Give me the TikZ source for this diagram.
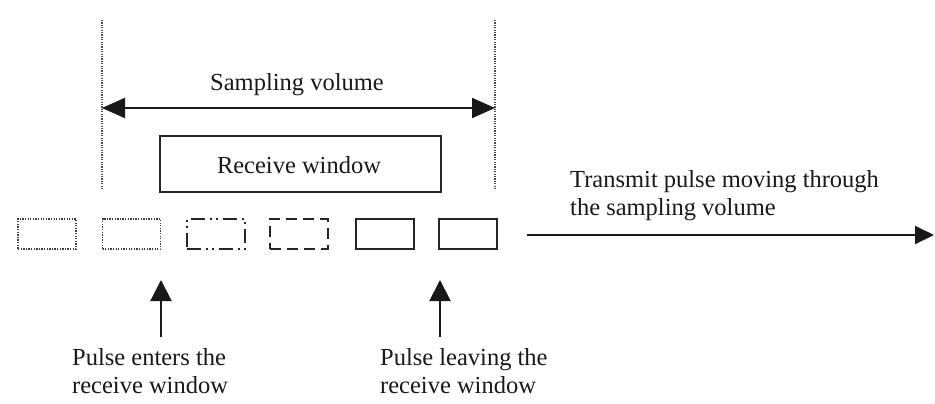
\documentclass[tikz,border=0pt]{standalone}
\usepackage{fontspec}
\setmainfont{Liberation Serif}
\usetikzlibrary{arrows.meta}
\begin{document}
\begin{tikzpicture}[x=1pt,y=-1pt,
  lbl/.style={font=\fontsize{24.5}{28}\selectfont, inner sep=0pt, text=black!90},
  pulse/.style={minimum width=58pt, minimum height=30pt, inner sep=0pt},
  dotbox/.style={pulse, draw=black!75, line width=1.8pt, dash pattern=on 1.3pt off 1.3pt},
  dashdotbox/.style={pulse, draw=black!85, line width=2pt, dash pattern=on 14pt off 5pt on 2pt off 4pt on 2pt off 5pt},
  dashbox/.style={pulse, draw=black!85, line width=2pt, dash pattern=on 11pt off 6pt},
  solidbox/.style={pulse, draw=black!85, line width=2.4pt},
  guide/.style={draw=black!70, line width=1.1pt, dash pattern=on 1.2pt off 1.2pt},
  bigarrow/.style={line width=2pt, draw=black!90, {Triangle[length=23pt,width=20pt]}-{Triangle[length=23pt,width=20pt]}},
  uparrow/.style={line width=2pt, draw=black!90, -{Triangle[length=21pt,width=21pt]}},
  movearrow/.style={line width=2pt, draw=black!90, -{Triangle[length=19pt,width=18pt]}}]
\useasboundingbox (0,0) rectangle (935,404);

% boundaries of the sampling volume
\coordinate (gl top) at (102,20);
\coordinate (gl bot) at (102,190);
\coordinate (gr top) at (495,20);
\coordinate (gr bot) at (495,190);
\draw[guide] (gl top) -- (gl bot);
\draw[guide] (gr top) -- (gr bot);

% sampling volume extent
\coordinate (sv left) at (102,108);
\coordinate (sv right) at (495,108);
\draw[bigarrow] (sv left) -- (sv right);
\node[lbl, anchor=base] (svlabel) at (297,91) {Sampling volume};

% receive window
\node[draw=black!85, line width=2.2pt, minimum width=281pt, minimum height=56pt, inner sep=0pt] (rw) at (300.5,164) {};
\node[lbl, anchor=base] (rwlabel) at (299,173) {Receive window};

% successive positions of the transmit pulse
\node[dotbox] (p1) at (47,234) {};
\node[dotbox] (p2) at (131.5,234) {};
\node[dashdotbox] (p3) at (216,234) {};
\node[dashbox] (p4) at (299,234) {};
\node[solidbox] (p5) at (385,234) {};
\node[solidbox] (p6) at (468,234) {};

% direction of travel
\coordinate (mv start) at (527,235);
\coordinate (mv end) at (934,235);
\draw[movearrow] (mv start) -- (mv end);
\node[lbl, anchor=north west, align=left] (mvlabel) at (570,170)
  {Transmit pulse moving through\\the sampling volume};

% entry and exit markers
\coordinate (tipA) at (161,280);
\coordinate (tipB) at (440,280);
\node[lbl, anchor=north west, align=left] (enters) at (72,348)
  {Pulse enters the\\receive window};
\node[lbl, anchor=north west, align=left] (leaving) at (380,348)
  {Pulse leaving the\\receive window};
\draw[uparrow] (tipA |- enters.north) ++(0,-11) -- (tipA);
\draw[uparrow] (tipB |- leaving.north) ++(0,-11) -- (tipB);
\end{tikzpicture}
\end{document}
